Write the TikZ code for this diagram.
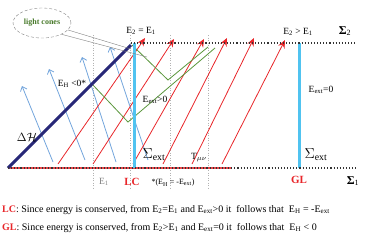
\documentclass[tikz,border=0pt]{standalone}
\usepackage{fontspec}
\setmainfont{Liberation Serif}
\usetikzlibrary{arrows.meta,shapes.geometric}
\definecolor{redl}{RGB}{232,38,42}
\definecolor{bluel}{RGB}{115,165,220}
\definecolor{navyl}{RGB}{40,40,120}
\definecolor{cyanl}{RGB}{80,195,240}
\definecolor{greenl}{RGB}{90,150,60}
\definecolor{greent}{RGB}{70,120,40}
\newcommand{\sbs}[1]{\textsubscript{#1}}
\tikzset{
  redarrow/.style={draw=redl, line width=0.8pt, -{Stealth[length=8pt,width=7pt]}},
  bluearrow/.style={draw=bluel, line width=0.8pt, -{Straight Barb[length=4pt,width=7pt]}},
  greenline/.style={draw=greenl, line width=0.8pt},
  guide/.style={draw=gray!60, dotted, line width=0.5pt},
  sigmaline/.style={draw=black!80, dotted, line width=1.1pt},
  lbl/.style={inner sep=0pt, font=\fontsize{9.5}{10}\selectfont},
  bigl/.style={inner sep=0pt, font=\fontsize{12}{13}\selectfont},
  sxl/.style={inner sep=0pt, font=\fontsize{14}{15}\selectfont},
  redlab/.style={inner sep=0pt, text=redl, font=\fontsize{11}{12}\selectfont\bfseries},
}
\begin{document}
\begin{tikzpicture}[x=1pt,y=-1pt]
\useasboundingbox (0,0) rectangle (374,242);
% coordinates
\foreach \n/\x in {1/93,2/130,3/170,4/208}{
  \coordinate (vt\n) at (\x,35);
  \coordinate (vb\n) at (\x,188);
}
\coordinate (s1a) at (8,168);
\coordinate (s1r) at (232,168);
\coordinate (s1b) at (356,168);
\coordinate (s2a) at (131,43);
\coordinate (s2b) at (356,43);
\coordinate (dh) at (131,45);
% blue
\coordinate (b1a) at (53,162); \coordinate (b1b) at (22,86);
\coordinate (b2a) at (85,160); \coordinate (b2b) at (49,69);
\coordinate (b3a) at (116,162); \coordinate (b3b) at (82,57);
\coordinate (b4a) at (148,160); \coordinate (b4b) at (110,47);
% red
\coordinate (r1a) at (58,164); \coordinate (r1b) at (145,38);
\coordinate (r2a) at (93,164); \coordinate (r2b) at (174,39);
\coordinate (r3a) at (133,164); \coordinate (r3b) at (204,39);
\coordinate (r4a) at (163,164); \coordinate (r4b) at (227,38);
\coordinate (r5a) at (192,164); \coordinate (r5b) at (254,38);
\coordinate (r6a) at (222,164); \coordinate (r6b) at (285,40);
% green
\coordinate (g1a) at (92,84); \coordinate (g1v) at (128,122); \coordinate (g1b) at (215,48);
\coordinate (g2a) at (132,45); \coordinate (g2v) at (168,80); \coordinate (g2b) at (208,47);
% cyan
\coordinate (c1t) at (134,43); \coordinate (c1b) at (134,168);
\coordinate (c2t) at (299,43); \coordinate (c2b) at (299,168);

\foreach \n in {1,...,4}{\draw[guide] (vt\n) -- (vb\n);}
\draw[draw=redl!85, line width=1.8pt] (s1a) -- (s1r);
\foreach \n in {1,...,4}{\draw[bluearrow] (b\n a) -- (b\n b);}
\foreach \n in {1,...,6}{\draw[redarrow] (r\n a) -- (r\n b);}
\draw[greenline] (g1a) -- (g1v) -- (g1b);
\draw[greenline] (g2a) -- (g2v) -- (g2b);
\draw[navyl, line width=3pt] (s1a) -- (dh);
\draw[cyanl, line width=3pt] (c1t) -- (c1b);
\draw[cyanl, line width=3pt] (c2t) -- (c2b);
\draw[sigmaline] (s1a) -- (s1b);
\draw[sigmaline] (s2a) -- (s2b);

% callout
\node[ellipse, draw=gray, densely dashed, line width=0.4pt, minimum width=58pt, minimum height=30pt, inner sep=0pt,
  font=\fontsize{8}{9}\selectfont\bfseries, text=greent] (lcone) at (42,23) {light cones};
\coordinate (cp1) at (131,49);
\coordinate (cp2) at (147,57);
\draw[gray, line width=0.4pt] (lcone.345) -- (cp1);
\draw[gray, line width=0.4pt] (lcone.330) -- (cp2);

% labels
\node[lbl] (e21) at (141,31) {E\sbs{2} = E\sbs{1}};
\node[lbl] (e2g) at (298,32) {E\sbs{2} > E\sbs{1}};
\node[bigl] (sig2) at (345,31) {\textbf{Σ}\sbs{2}};
\node[bigl] (sig1) at (353,181) {\textbf{Σ}\sbs{1}};
\node[lbl] (eh) at (72,84) {E\sbs{H} <0*};
\node[lbl] (eext) at (155,100) {E\sbs{ext}>0};
\node[lbl] (eext0) at (321,90) {E\sbs{ext}=0};
\node[inner sep=0pt, font=\fontsize{13}{14}\selectfont] (dH) at (27,137) {$\Delta\mathcal{H}$};
\node[sxl] (sx1) at (154,155) {$\Sigma_{\mathrm{ext}}$};
\node[sxl] (sx2) at (316,155) {$\Sigma_{\mathrm{ext}}$};
\node[lbl] (tmn) at (199,158) {T$_{\mu\nu}$};
\node[lbl, text=gray] (e1) at (104,182) {E\sbs{1}};
\node[redlab] (lc) at (132,182) {LC};
\node[inner sep=0pt, font=\fontsize{8}{9}\selectfont] (star) at (173,183) {*(E\sbs{H} = -E\sbs{ext})};
\node[redlab] (gl) at (299,180) {GL};

% bottom text
\node[anchor=west, inner sep=0pt, font=\fontsize{10}{11}\selectfont] (t1) at (2,210)
  {\textcolor{redl}{\textbf{LC}}: Since energy is conserved, from E\sbs{2}=E\sbs{1} and E\sbs{ext}>0 it\ \ follows that\ \ E\sbs{H} = -E\sbs{ext}};
\node[anchor=west, inner sep=0pt, font=\fontsize{10}{11}\selectfont] (t2) at (2,228)
  {\textcolor{redl}{\textbf{GL}}: Since energy is conserved, from E\sbs{2}>E\sbs{1} and E\sbs{ext}=0 it\ \ follows that\ \ E\sbs{H} < 0};
\end{tikzpicture}
\end{document}
